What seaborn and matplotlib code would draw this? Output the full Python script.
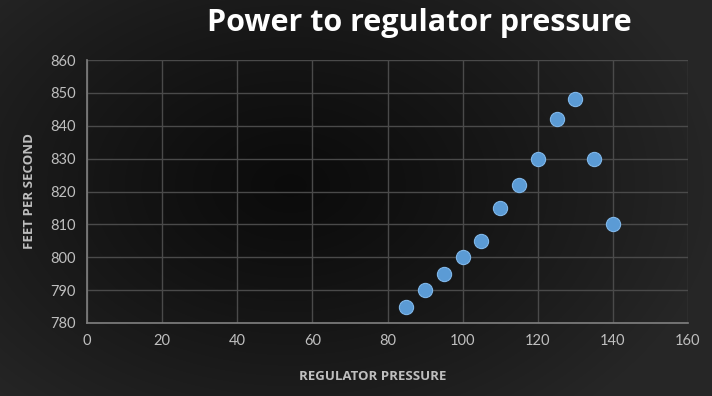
import numpy as np
import pandas as pd
import matplotlib
matplotlib.use("Agg")
import matplotlib.pyplot as plt
import seaborn as sns

regulator_pressure = [85, 90, 95, 100, 105, 110, 115, 120, 125, 130, 135, 140]
feet_per_second = [785, 790, 795, 800, 805, 815, 822, 830, 842, 848, 830, 810]
x_ticks = [0, 20, 40, 60, 80, 100, 120, 140, 160]
y_ticks = [780, 790, 800, 810, 820, 830, 840, 850, 860]

df = pd.DataFrame({"REGULATOR PRESSURE": regulator_pressure,
                   "FEET PER SECOND": feet_per_second})

sns.set_theme(style="dark")
plt.rcParams['font.family'] = ['Lato', 'DejaVu Sans']

fig = plt.figure(figsize=(7.12, 3.96), dpi=100)
fig.patch.set_facecolor("#262626")

# radial gradient background
bg = fig.add_axes([0, 0, 1, 1], zorder=0)
W, H = 712, 396
yy, xx = np.mgrid[0:H, 0:W]
cx, cy = 290, 185
r = np.sqrt(((xx - cx) / 430.0) ** 2 + ((yy - cy) / 300.0) ** 2)
val = np.clip(r, 0, 1)
lo, hi = 0.045, 0.15
img = lo + (hi - lo) * val ** 1.2
bg.imshow(np.dstack([img, img, img]), aspect="auto", extent=[0, 1, 0, 1])
bg.axis("off")

ax = fig.add_axes([87/712, 1-323/396, (688-87)/712, (323-60)/396], zorder=1)
ax.patch.set_alpha(0)

sns.scatterplot(data=df, x="REGULATOR PRESSURE", y="FEET PER SECOND", ax=ax,
                s=105, color="#5b9bd5", edgecolor="#7fb6e8", linewidth=0.8, zorder=5)

ax.set_xlim(0, 160)
ax.set_ylim(780, 860)
ax.set_xticks(x_ticks)
ax.set_yticks(y_ticks)
ax.grid(True, color="#4a4a4a", linewidth=1.0)
for s in ["top", "right"]:
    ax.spines[s].set_visible(False)
for s in ["left", "bottom"]:
    ax.spines[s].set_visible(True)
    ax.spines[s].set_color("#808080")
    ax.spines[s].set_linewidth(1.2)
ax.tick_params(colors="#bfbfbf", labelsize=10.5, length=0, pad=8)
ax.set_xlabel("REGULATOR PRESSURE", color="#bfbfbf", fontsize=9.5, fontweight="bold",
              family=["Open Sans", "DejaVu Sans"])
ax.xaxis.set_label_coords((373-87)/(688-87), -(376-323)/263)
ax.xaxis.label.set_va("center")
ax.set_ylabel("FEET PER SECOND", color="#bfbfbf", fontsize=9.5, fontweight="bold",
              labelpad=10, family=["Open Sans", "DejaVu Sans"])

fig.text(419/712, 1-23/396, "Power to regulator pressure", color="white",
         fontsize=22, fontweight="bold", ha="center", va="center",
         family=["Open Sans", "DejaVu Sans"])

fig.savefig("out.png", dpi=100, facecolor=fig.get_facecolor())
